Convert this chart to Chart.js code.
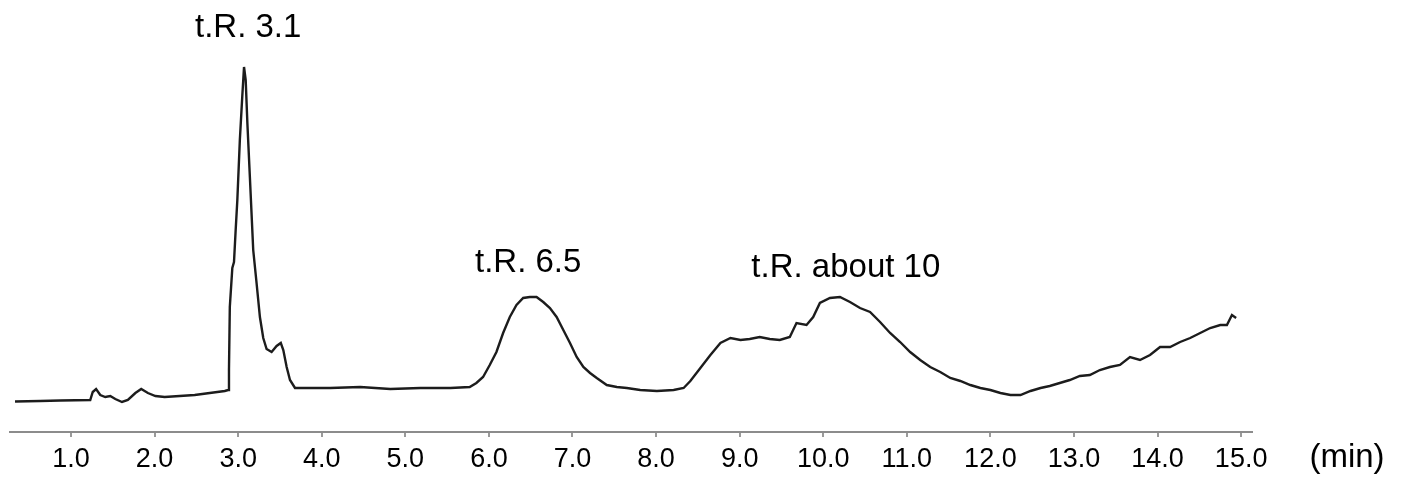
<!DOCTYPE html>
<html>
<head>
<meta charset="utf-8">
<script src="https://cdn.jsdelivr.net/npm/chart.js@4/dist/chart.umd.min.js"></script>
<style>
  html, body { margin: 0; padding: 0; background: #fff; }
  #wrap { width: 1416px; height: 483px; }
</style>
</head>
<body>
<div id="wrap"><canvas id="c" width="1416" height="483"></canvas></div>
<script>
// Retention time (min)
const times = [
  0.33, 0.63, 0.87, 1.23, 1.26, 1.30, 1.35, 1.41, 1.47, 1.53, 1.61, 1.68, 1.77, 1.84, 1.92, 2.01, 2.12, 2.30, 2.48, 2.66, 2.84, 2.88,
  2.89, 2.90, 2.93, 2.95, 2.97, 2.99, 3.02, 3.05, 3.07, 3.09, 3.11, 3.14, 3.18, 3.22, 3.26, 3.30, 3.34, 3.40, 3.46, 3.51, 3.54, 3.58, 3.62, 3.68, 3.74,
  4.10, 4.46, 4.82, 5.18, 5.54, 5.77,
  5.85, 5.93, 6.01, 6.09, 6.17, 6.25, 6.33, 6.41, 6.49, 6.57, 6.65, 6.73, 6.81, 6.89, 6.97, 7.05, 7.13, 7.21, 7.29, 7.41, 7.53, 7.65, 7.81, 8.01, 8.21, 8.33,
  8.41, 8.53, 8.65, 8.77, 8.89, 9.01, 9.12, 9.24, 9.36, 9.48, 9.60, 9.68, 9.80, 9.88, 9.96, 10.08, 10.20, 10.32, 10.44, 10.56, 10.68, 10.80, 10.92,
  11.04, 11.16, 11.28, 11.40, 11.52, 11.64, 11.76, 11.88, 12.00, 12.12, 12.24, 12.36, 12.48, 12.60, 12.71, 12.83, 12.95, 13.07, 13.19, 13.31,
  13.43, 13.55, 13.67, 13.79, 13.91, 14.03, 14.15, 14.27, 14.39, 14.51, 14.63, 14.75, 14.83, 14.89, 14.94
];
// Detector response (arbitrary units)
const signal = [
  30.5, 31, 31.5, 32, 40, 43, 37, 35, 36, 33, 30, 32, 39, 43, 39, 36, 35, 36, 37, 39, 41, 42,
  62, 125, 164, 170, 202, 232, 292, 337, 365, 352, 309, 255, 182, 149, 115, 94, 83, 80, 86, 89, 82, 65, 52, 44, 44,
  44, 45, 43, 44, 44, 45,
  49, 55, 67, 80, 99, 115, 127, 134, 135, 135, 130, 124, 115, 102, 89, 75, 65, 59, 54, 47, 45, 44, 42, 41, 42, 44,
  51, 64, 77, 89, 94, 92, 93, 95, 93, 92, 95, 109, 107, 115, 129, 134, 135, 130, 124, 120, 110, 99, 90,
  80, 72, 65, 60, 54, 51, 47, 44, 42, 39, 37, 37, 41, 44, 46, 49, 52, 56, 57, 62,
  65, 67, 75, 72, 77, 85, 85, 90, 94, 99, 104, 107, 107, 117, 114
];
// Axis ticks
const tickValues = [1, 2, 3, 4, 5, 6, 7, 8, 9, 10, 11, 12, 13, 14, 15];
const tickLabels = ['1.0','2.0','3.0','4.0','5.0','6.0','7.0','8.0','9.0','10.0','11.0','12.0','13.0','14.0','15.0'];
const axisUnit = '(min)';
// Peak annotations
const peakLabels = ['t.R. 3.1', 't.R. 6.5', 't.R. about 10'];
const peakLabelTimes = [3.12, 6.47, 10.27];
const peakLabelLevels = [404, 169, 164];

const FONT = "'Liberation Sans', Arial, sans-serif";

const labelPlugin = {
  id: 'peakLabels',
  afterDraw(chart) {
    const ctx = chart.ctx;
    const xs = chart.scales.x, ys = chart.scales.y;
    ctx.save();
    ctx.fillStyle = '#000';
    ctx.font = '33px ' + FONT;
    ctx.textAlign = 'center';
    ctx.textBaseline = 'middle';
    peakLabels.forEach((t, i) => {
      ctx.fillText(t, xs.getPixelForValue(peakLabelTimes[i]), ys.getPixelForValue(peakLabelLevels[i]));
    });
    // unit label
    ctx.fillText(axisUnit, chart.chartArea.right + 95, chart.chartArea.bottom + 26);
    ctx.restore();
  }
};

new Chart(document.getElementById('c'), {
  type: 'line',
  data: {
    datasets: [{
      data: times.map((t, i) => ({ x: t, y: signal[i] })),
      borderColor: '#1c1c1c',
      borderWidth: 2.4,
      pointRadius: 0,
      tension: 0,
      fill: false
    }]
  },
  options: {
    responsive: false,
    animation: false,
    layout: { padding: { left: 10, right: 164, top: 0, bottom: 0 } },
    plugins: { legend: { display: false }, tooltip: { enabled: false } },
    scales: {
      x: {
        type: 'linear',
        min: 0.27,
        max: 15.13,
        afterBuildTicks: (scale) => { scale.ticks = tickValues.map(v => ({ value: v })); },
        afterFit: (scale) => { scale.height = 51; },
        border: { display: true, color: '#8c8c8c', width: 2 },
        grid: { drawOnChartArea: false, drawTicks: true, tickLength: 5, color: '#9a9a9a', lineWidth: 2 },
        ticks: {
          autoSkip: false,
          maxRotation: 0,
          padding: 6,
          color: '#000',
          font: { family: FONT, size: 27 },
          callback: (v, i) => tickLabels[i]
        }
      },
      y: {
        display: false,
        min: 0,
        max: 432
      }
    }
  },
  plugins: [labelPlugin]
});
</script>
</body>
</html>
